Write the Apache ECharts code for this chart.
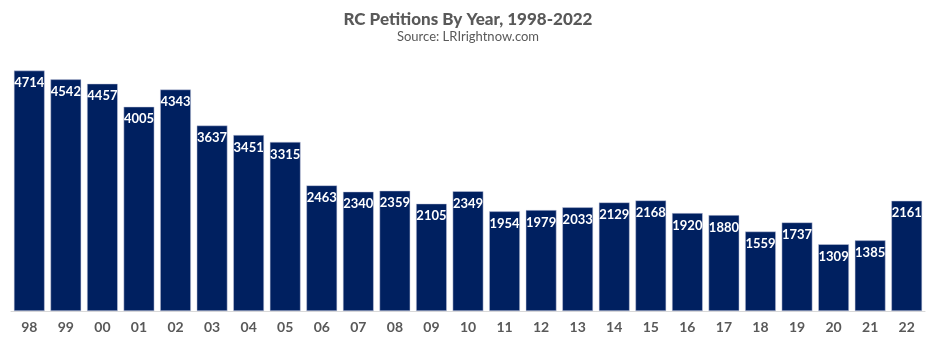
<!DOCTYPE html>
<html><head><meta charset="utf-8">
<script src="https://cdn.jsdelivr.net/npm/echarts@6/dist/echarts.min.js"></script>
<style>html,body{margin:0;padding:0;background:#fff}#c{width:936px;height:344px}</style>
</head><body><div id="c"></div>
<script>
const categories = ["98","99","00","01","02","03","04","05","06","07","08","09","10","11","12","13","14","15","16","17","18","19","20","21","22"];
const petitions = [4714,4542,4457,4005,4343,3637,3451,3315,2463,2340,2359,2105,2349,1954,1979,2033,2129,2168,1920,1880,1559,1737,1309,1385,2161];
const titleText = "RC Petitions By Year, 1998-2022";
const subtitleText = "Source: LRIrightnow.com";

const chart = echarts.init(document.getElementById('c'), null, {renderer:'canvas'});
chart.setOption({
  animation: false,
  title: {
    text: titleText, subtext: subtitleText, left: 'center', top: 6, itemGap: 2,
    textStyle: {fontFamily: 'Lato', fontWeight: 900, fontSize: 17, color: '#595959'},
    subtextStyle: {fontFamily: 'Lato', fontSize: 13, color: '#595959'}
  },
  grid: {left: 11, right: 11, top: 56, bottom: 33},
  xAxis: {
    type: 'category', data: categories,
    axisLine: {lineStyle: {color: '#d9d9d9', width: 1}},
    axisTick: {show: false},
    axisLabel: {fontFamily: 'Lato', fontWeight: 'bold', fontSize: 14, color: '#595959', margin: 9}
  },
  yAxis: {type: 'value', min: 0, max: 5000, show: false, splitLine: {show: false}},
  series: [{
    type: 'bar', data: petitions, barCategoryGap: '16%',
    itemStyle: {color: '#002060', borderColor: '#c9cde0', borderWidth: 0.5},
    label: {show: true, position: 'insideTop', distance: 6, color: '#fff',
      fontFamily: 'Lato', fontWeight: 'bold', fontSize: 13}
  }]
});
</script></body></html>
